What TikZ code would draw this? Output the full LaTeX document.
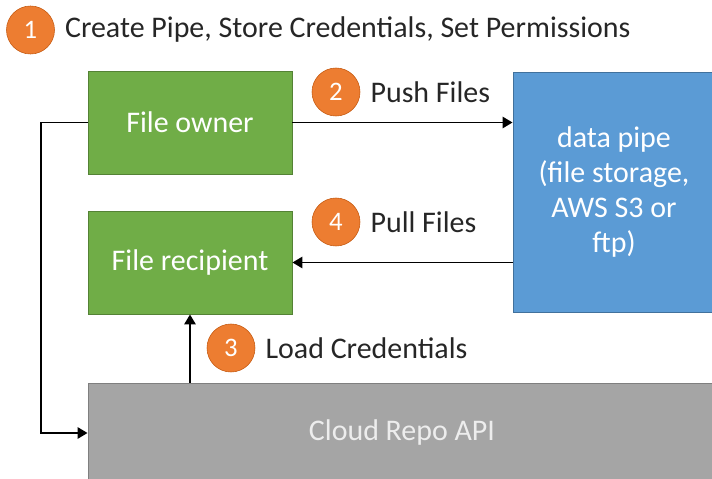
\documentclass[tikz,border=0pt]{standalone}
\usepackage{fontspec}
\setmainfont{Carlito}
\usetikzlibrary{positioning, arrows.meta}
\definecolor{boxgreen}{HTML}{70AD47}
\definecolor{boxgreenedge}{HTML}{548235}
\definecolor{pipeblue}{HTML}{5B9BD5}
\definecolor{pipeblueedge}{HTML}{41719C}
\definecolor{repogrey}{HTML}{A5A5A5}
\definecolor{repogreyedge}{HTML}{7F7F7F}
\definecolor{dotorange}{HTML}{ED7D31}
\definecolor{dotorangeedge}{HTML}{C55A11}
\definecolor{labelgrey}{HTML}{262626}
\newcommand\stepmark[4]{% centre (x,y), number, text
  \node[numdot] (dot#3) at (#1,#2) {#3}; % orange numbered circle
  \node[steptext, right=0.25 of dot#3] (txt#3) {#4};
}

\begin{document}
\begin{tikzpicture}[
    greenbox/.style={draw=boxgreenedge, fill=boxgreen, line width=0.7pt, minimum width=5.1cm, minimum height=2.575cm, text=white, font=\fontsize{21.3}{25}\selectfont},
    bluebox/.style={draw=pipeblueedge, fill=pipeblue, line width=0.7pt, minimum width=5.05cm, minimum height=6cm, text=white, align=center, font=\fontsize{21.3}{25}\selectfont},
    greybox/.style={draw=repogreyedge, fill=repogrey, line width=0.7pt, minimum width=15.7cm, minimum height=2.5cm, text=white!93!black, font=\fontsize{21.3}{25}\selectfont},
    numdot/.style={circle, draw=dotorangeedge, fill=dotorange, line width=0.4pt, minimum size=1.2cm, inner sep=0pt, text=white, font=\fontsize{19}{22}\selectfont},
    steptext/.style={inner sep=0pt, text=labelgrey, font=\fontsize{21.3}{25}\selectfont},
    flow/.style={line width=1.2pt, -{Triangle[length=7pt, width=8pt]}}]
  \clip (0,0) rectangle (17.8,11.975);
  % boxes
  \node[greenbox] (owner) at (4.75,8.9125) {File owner};
  \node[greenbox] (recipient) at (4.75,5.4125) {File recipient};
  \node[bluebox] (pipe) at (15.35,7.175) {data pipe\\(file storage,\\AWS S3 or\\ftp)};
  \node[greybox] (repo) at (10.05,1.15) {Cloud Repo API};
  % steps
  \stepmark{0.7625}{11.225}{1}{Create Pipe, Store Credentials, Set Permissions}
  \stepmark{8.4}{9.675}{2}{Push Files}
  \stepmark{5.775}{3.275}{3}{Load Credentials}
  \stepmark{8.4}{6.425}{4}{Pull Files}
  % connectors
  \draw[flow] (owner.east) -- (owner.east -| pipe.west);
  \draw[flow] (recipient.east -| pipe.west) -- (recipient.east);
  \draw[flow] (repo.north -| recipient.south) -- (recipient.south);
  \coordinate (bend) at (1.025,0 |- owner.west);
  \draw[flow] (owner.west) -- (bend) |- (repo.west);
\end{tikzpicture}
\end{document}
